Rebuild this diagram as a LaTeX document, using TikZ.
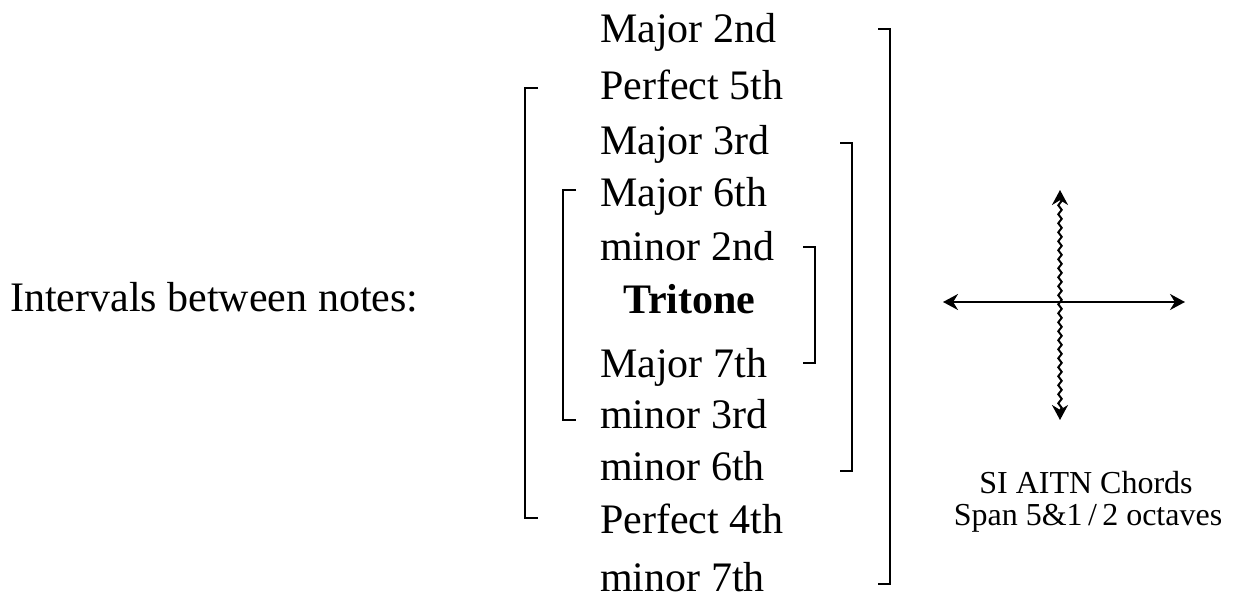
\documentclass[tikz,border=0pt]{standalone}
\usepackage{fontspec}
\setmainfont{Liberation Serif}
\usetikzlibrary{arrows.meta,decorations.pathmorphing}
\tikzset{
  lbl/.style={anchor=base west, inner sep=0pt, font=\fontsize{42}{50}\selectfont},
  small/.style={anchor=base, inner sep=0pt, font=\fontsize{32}{38}\selectfont},
  brk/.style={line width=2pt},
  axis/.style={line width=2pt, {Stealth[length=15pt,width=16pt]}-{Stealth[length=15pt,width=16pt]}},
}
\begin{document}
\begin{tikzpicture}[x=1pt,y=-1pt]
\useasboundingbox (0,0) rectangle (1248,599);
\node[lbl] (intv) at (10,311) {Intervals between notes:};
\node[lbl] (m2M) at (600,43) {Major 2nd};
\node[lbl] (p5) at (600,100) {Perfect 5th};
\node[lbl] (m3M) at (600,155) {Major 3rd};
\node[lbl] (m6M) at (600,207) {Major 6th};
\node[lbl] (m2m) at (600,260) {minor 2nd};
\node[lbl] (tri) at (623,313) {\bfseries Tritone};
\node[lbl] (m7M) at (600,377) {Major 7th};
\node[lbl] (m3m) at (600,428) {minor 3rd};
\node[lbl] (m6m) at (600,480) {minor 6th};
\node[lbl] (p4) at (600,533) {Perfect 4th};
\node[lbl] (m7m) at (600,591) {minor 7th};
% brackets
\draw[brk] (878,29) -- (890,29) -- (890,584) -- (878,584);
\draw[brk] (538,88) -- (525,88) -- (525,518) -- (538,518);
\draw[brk] (840,143) -- (852,143) -- (852,471) -- (840,471);
\draw[brk] (576,190) -- (563,190) -- (563,420) -- (576,420);
\draw[brk] (803,247) -- (815,247) -- (815,363) -- (803,363);
% cross
\coordinate (hl) at (943,302);
\coordinate (hr) at (1185,302);
\coordinate (vt) at (1060,190);
\coordinate (vb) at (1060,420);
\draw[axis] (hl) -- (hr);
\draw[axis, decorate, decoration={snake, amplitude=1.7pt, segment length=9pt, pre length=8pt, post length=8pt}] (vt) -- (vb);
\node[small] (si) at (1086,493) {SI AITN Chords};
\node[small] (span) at (1088,525) {Span 5\&1\,/\,2 octaves};
\end{tikzpicture}
\end{document}
